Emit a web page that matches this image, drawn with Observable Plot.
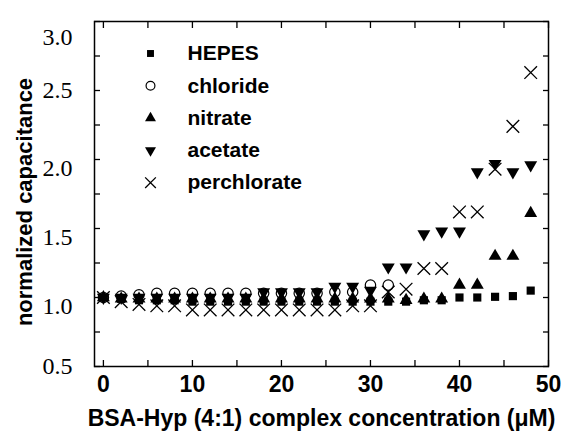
<!DOCTYPE html>
<html><head><meta charset="utf-8">
<script src="https://cdn.jsdelivr.net/npm/d3@7"></script>
<script src="https://cdn.jsdelivr.net/npm/@observablehq/plot@0.6"></script>
<style>
body{margin:0;background:#fff;}
#chart svg{display:block;}
</style>
</head><body><div id="chart"></div>
<script>
// ---- data ----
const concentration = [0,2,4,6,8,10,12,14,16,18,20,22,24,26,28,30,32,34,36,38,40,42,44,46,48];
const hepes       = [1.00,0.99,0.98,0.98,0.98,0.97,0.97,0.97,0.97,0.97,0.97,0.97,0.97,0.97,0.97,0.97,0.97,0.97,0.98,0.98,1.00,1.00,1.005,1.01,1.05];
const chloride    = [1.00,1.01,1.02,1.03,1.03,1.03,1.03,1.03,1.03,1.03,1.03,1.03,1.03,1.04,1.04,1.09,1.09];
const nitrate     = [1.00,0.99,0.99,0.99,0.99,0.99,0.99,0.99,0.99,0.99,0.99,0.99,0.99,0.99,0.99,0.99,0.99,0.98,0.99,0.99,1.09,1.09,1.30,1.30,1.61];
const acetate     = [1.00,1.00,1.00,1.00,1.00,1.00,1.00,1.00,1.00,1.04,1.04,1.04,1.04,1.08,1.08,1.05,1.22,1.22,1.46,1.48,1.48,1.91,1.97,1.91,1.96];
const perchlorate = [1.00,0.97,0.95,0.94,0.94,0.91,0.91,0.91,0.91,0.91,0.91,0.91,0.91,0.91,0.94,0.94,1.04,1.06,1.21,1.21,1.62,1.62,1.93,2.24,2.63];
const seriesNames = ["HEPES","chloride","nitrate","acetate","perchlorate"];
const xTickLabels = [0,10,20,30,40,50];
const xAllTicks   = [0,5,10,15,20,25,30,35,40,45,50];
const yTickLabels = [0.5,1.0,1.5,2.0,2.5,3.0];
const yAllTicks   = [0.5,0.75,1.0,1.25,1.5,1.75,2.0,2.25,2.5,2.75,3.0];
const xTitle = "BSA-Hyp (4:1) complex concentration (\u03BCM)";
const yTitle = "normalized capacitance";

// ---- build ----
const seriesValues = {HEPES: hepes, chloride, nitrate, acetate, perchlorate};
const styles = {
  HEPES:       {symbol: "square",   fill: "black", stroke: "none",  r: 4.6},
  chloride:    {symbol: "circle",   fill: "none",  stroke: "black", r: 5.2, strokeWidth: 1.2},
  nitrate:     {symbol: "triangle", fill: "black", stroke: "none",  r: 4.8},
  acetate:     {symbol: "triangle", fill: "black", stroke: "none",  r: 4.8, rotate: 180},
  perchlorate: {symbol: "times",    fill: "none",  stroke: "black", r: 5.8, strokeWidth: 1.3}
};
const rows = name => seriesValues[name].map((v, i) => ({x: concentration[i], y: v}));

const sans = "'Liberation Sans', Arial, sans-serif";
const serif = "'Liberation Serif', 'Times New Roman', serif";
const boldText = {fontFamily: sans, fontWeight: "bold", fill: "black", lineAnchor: "middle"};
const yLab = {y: d => d, frameAnchor: "left", dx: -22, textAnchor: "end", lineAnchor: "middle",
              text: d => d.toFixed(1), fontFamily: serif, fontSize: 24, fill: "black"};

const marks = [
  Plot.frame({stroke: "black", strokeWidth: 1.5}),
  // inward ticks on all four sides
  Plot.axisX({ticks: xAllTicks, anchor: "bottom", tickSize: -6, tickFormat: () => "", label: null, strokeWidth: 1.3}),
  Plot.axisX({ticks: xAllTicks, anchor: "top", tickSize: -6, tickFormat: () => "", label: null, strokeWidth: 1.3}),
  Plot.axisY({ticks: yAllTicks, anchor: "left", tickSize: -6, tickFormat: () => "", label: null, strokeWidth: 1.3}),
  Plot.axisY({ticks: yAllTicks, anchor: "right", tickSize: -6, tickFormat: () => "", label: null, strokeWidth: 1.3}),
  // x tick labels
  Plot.text(xTickLabels, {x: d => d, frameAnchor: "bottom", dy: 18, ...boldText, fontSize: 23}),
  // y tick labels (serif), displaced like the reference
  Plot.text(yTickLabels.filter(d => d === 0.5 || d === 2.5), {...yLab}),
  Plot.text(yTickLabels.filter(d => d >= 1.0 && d <= 2.0), {...yLab, dy: 9}),
  Plot.text(yTickLabels.filter(d => d === 3.0), {...yLab, dy: 16}),
  // axis titles
  Plot.text([xTitle], {frameAnchor: "bottom", dy: 52, textAnchor: "middle", ...boldText, fontSize: 23}),
  Plot.text([yTitle], {frameAnchor: "left", dx: -70, dy: 8, rotate: -90, textAnchor: "middle", ...boldText, fontSize: 22})
];

// data points
for (const name of seriesNames) {
  marks.push(Plot.dot(rows(name), {x: "x", y: "y", ...styles[name]}));
}
// legend
seriesNames.forEach((name, i) => {
  const dy = 32 + i * 32.3;
  marks.push(Plot.dot([name], {frameAnchor: "top-left", dx: 56, dy, ...styles[name], r: styles[name].r * 0.85}));
  marks.push(Plot.text([name], {frameAnchor: "top-left", dx: 93, dy, textAnchor: "start", ...boldText, fontSize: 21}));
});

const chart = Plot.plot({
  width: 562,
  height: 435,
  marginLeft: 94,
  marginRight: 14,
  marginTop: 21,
  marginBottom: 69,
  x: {domain: [-1, 50], label: null},
  y: {domain: [0.5, 3.0], label: null},
  style: {fontFamily: sans, background: "white", color: "black"},
  marks
});
document.getElementById("chart").appendChild(chart);
</script>
</body></html>
